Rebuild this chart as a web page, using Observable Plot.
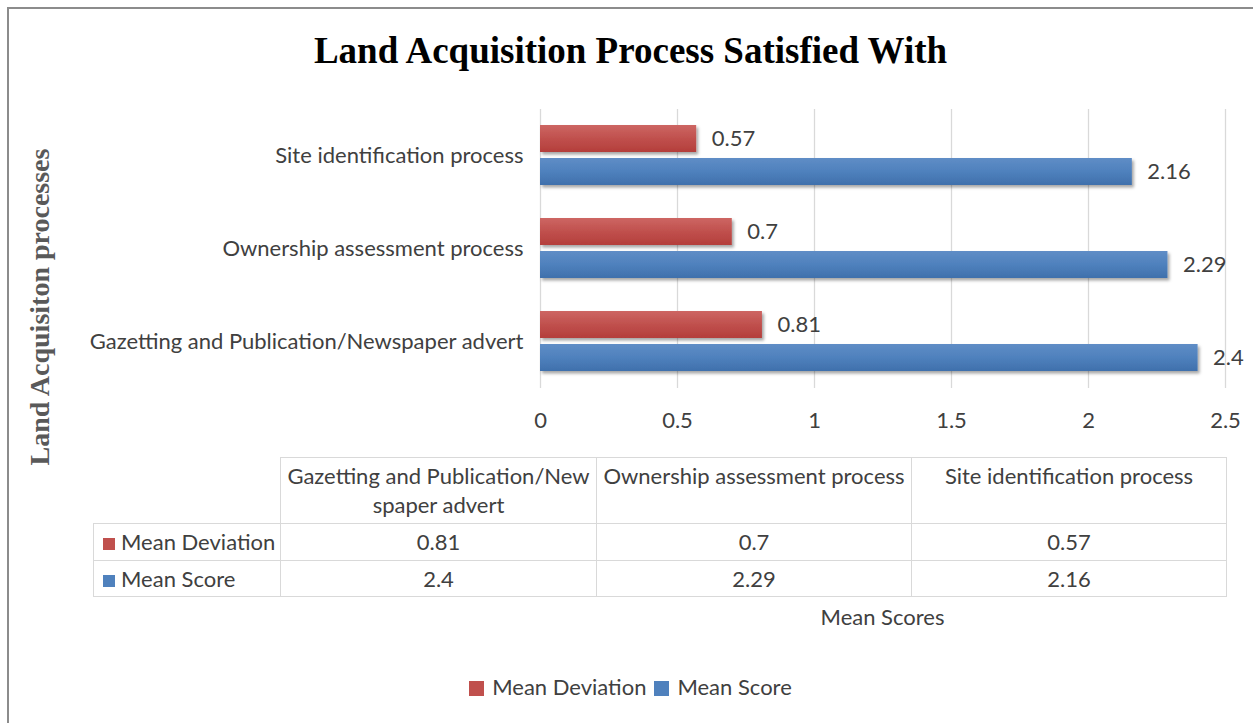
<!DOCTYPE html>
<html>
<head>
<meta charset="utf-8">
<script src="https://cdn.jsdelivr.net/npm/d3@7"></script>
<script src="https://cdn.jsdelivr.net/npm/@observablehq/plot@0.6"></script>
<style>
  html, body { margin: 0; background: #fff; overflow: hidden; }
  #wrap { position: relative; width: 1253px; height: 723px; background: #fff; overflow: hidden; font-family: Lato, "Open Sans", sans-serif; color: #404040; }
  #frameTop { position: absolute; left: 7px; top: 7px; width: 1246px; height: 2px; background: #8c8c8c; }
  #frameLeft { position: absolute; left: 7px; top: 7px; width: 2px; height: 716px; background: #8c8c8c; }
  #title { position: absolute; left: 8px; width: 1245px; top: 30px; text-align: center; font: bold 37px "Liberation Serif", serif; color: #000; line-height: 42px; white-space: nowrap; }
  #ylab { position: absolute; left: 40px; top: 307px; transform: translate(-50%, -50%) rotate(-90deg); font: bold 28px "Liberation Serif", serif; color: #595959; white-space: nowrap; line-height: 32px; }
  #chart { position: absolute; left: 0; top: 100px; width: 1253px; height: 340px; overflow: hidden; }
  #tbl { position: absolute; left: 93px; top: 457px; border-collapse: collapse; font-size: 22px; color: #404040; }
  #tbl td { border: 1px solid #d9d9d9; padding: 0; text-align: center; box-sizing: border-box; }
  #tbl tr.head td { height: 66px; vertical-align: top; padding: 3px 6px 0 6px; line-height: 29px; word-break: break-all; }
  #tbl tr.head td.blank { border-top: none; border-left: none; }
  #tbl tr.val td { height: 37px; line-height: 34px; }
  #tbl tr.val.last td { height: 36px; }
  #tbl td.lab { text-align: left; padding-left: 9px; white-space: nowrap; }
  .sq { display: inline-block; width: 12px; height: 12px; margin-right: 6px; vertical-align: 0px; }
  #xtitle { position: absolute; left: 540px; width: 685px; top: 602px; text-align: center; font-size: 22px; line-height: 30px; }
  #legend { position: absolute; left: 8px; width: 1245px; top: 672px; text-align: center; font-size: 22px; line-height: 30px; white-space: nowrap; }
  #legend .lsq { display: inline-block; width: 15px; height: 15px; margin-right: 8px; vertical-align: -1px; }
  #legend .item { margin: 0 4px; }
</style>
</head>
<body>
<div id="wrap">
  <div id="frameTop"></div>
  <div id="frameLeft"></div>
  <div id="title"></div>
  <div id="ylab"></div>
  <div id="chart"></div>
  <table id="tbl"></table>
  <div id="xtitle"></div>
  <div id="legend"></div>
</div>
<script>
// ---- data ----
const titleText = "Land Acquisition Process Satisfied With";
const yAxisTitle = "Land Acquisiton processes";
const xAxisTitle = "Mean Scores";
const categories = ["Site identification process", "Ownership assessment process", "Gazetting and Publication/Newspaper advert"];
const seriesNames = ["Mean Deviation", "Mean Score"];
const meanDeviation = [0.57, 0.7, 0.81];
const meanScore = [2.16, 2.29, 2.4];
const xTicks = [0, 0.5, 1, 1.5, 2, 2.5];
const seriesColors = ["#C0504D", "#4F81BD"];

// ---- build ----
const data = [];
categories.forEach((c, i) => {
  data.push({cat: c, series: seriesNames[0], value: meanDeviation[i]});
  data.push({cat: c, series: seriesNames[1], value: meanScore[i]});
});

document.getElementById("title").textContent = titleText;
document.getElementById("ylab").textContent = yAxisTitle;
document.getElementById("xtitle").textContent = xAxisTitle;

const chart = Plot.plot({
  width: 1253,
  height: 340,
  marginLeft: 540,
  marginRight: 28,
  marginTop: 8,
  marginBottom: 52,
  style: {fontFamily: "Lato, 'Open Sans', sans-serif", fontSize: "22px", color: "#404040", background: "transparent", overflow: "visible"},
  x: {domain: [0, 2.5], ticks: xTicks, tickSize: 0, tickPadding: 24, tickFormat: d => String(d), label: null},
  fy: {domain: categories, padding: 0, axis: "left", tickSize: 0, tickPadding: 17, label: null},
  y: {domain: seriesNames, axis: null, paddingInner: 0.176, paddingOuter: 0.456},
  color: {domain: seriesNames, range: ["url(#gRed)", "url(#gBlue)"]},
  marks: [
    Plot.gridX(xTicks, {stroke: "#d9d9d9", strokeOpacity: 1, strokeWidth: 1.3}),
    Plot.barX(data, {fy: "cat", y: "series", x: "value", fill: "series"}),
    Plot.text(data, {fy: "cat", y: "series", x: "value", text: d => String(d.value), dx: 15, textAnchor: "start", fill: "#404040"})
  ]
});

// gradients + shadow
const ns = "http://www.w3.org/2000/svg";
const defs = document.createElementNS(ns, "defs");
defs.innerHTML = `
  <linearGradient id="gRed" x1="0" y1="0" x2="0" y2="1">
    <stop offset="0" stop-color="#CD6663"/><stop offset="0.5" stop-color="${seriesColors[0]}"/><stop offset="1" stop-color="#B43E3B"/>
  </linearGradient>
  <linearGradient id="gBlue" x1="0" y1="0" x2="0" y2="1">
    <stop offset="0" stop-color="#5F8DC6"/><stop offset="0.5" stop-color="${seriesColors[1]}"/><stop offset="1" stop-color="#3F70AC"/>
  </linearGradient>
  <filter id="shadow" x="-5%" y="-20%" width="110%" height="160%">
    <feDropShadow dx="2" dy="2.5" stdDeviation="1.5" flood-color="#000" flood-opacity="0.35"/>
  </filter>`;
chart.insertBefore(defs, chart.firstChild);
chart.querySelectorAll('g[aria-label="bar"] rect').forEach(r => r.setAttribute("filter", "url(#shadow)"));
document.getElementById("chart").appendChild(chart);

// data table
const tableOrder = categories.slice().reverse();
const tbl = document.getElementById("tbl");
const widths = [187, 316, 315, 315];
let html = '<colgroup>' + widths.map(w => `<col style="width:${w}px">`).join("") + '</colgroup>';
html += '<tr class="head"><td class="blank"></td>' + tableOrder.map(c => `<td>${c}</td>`).join("") + '</tr>';
const seriesVals = [meanDeviation, meanScore];
seriesNames.forEach((s, si) => {
  html += `<tr class="val${si === seriesNames.length - 1 ? " last" : ""}"><td class="lab"><span class="sq" style="background:${seriesColors[si]}"></span>${s}</td>` +
    tableOrder.map(c => `<td>${seriesVals[si][categories.indexOf(c)]}</td>`).join("") + '</tr>';
});
tbl.innerHTML = html;
tbl.style.width = widths.reduce((a, b) => a + b, 0) + "px";
tbl.style.tableLayout = "fixed";

// legend
document.getElementById("legend").innerHTML = seriesNames.map((s, i) =>
  `<span class="item"><span class="lsq" style="background:${seriesColors[i]}"></span>${s}</span>`).join("");
</script>
</body>
</html>
